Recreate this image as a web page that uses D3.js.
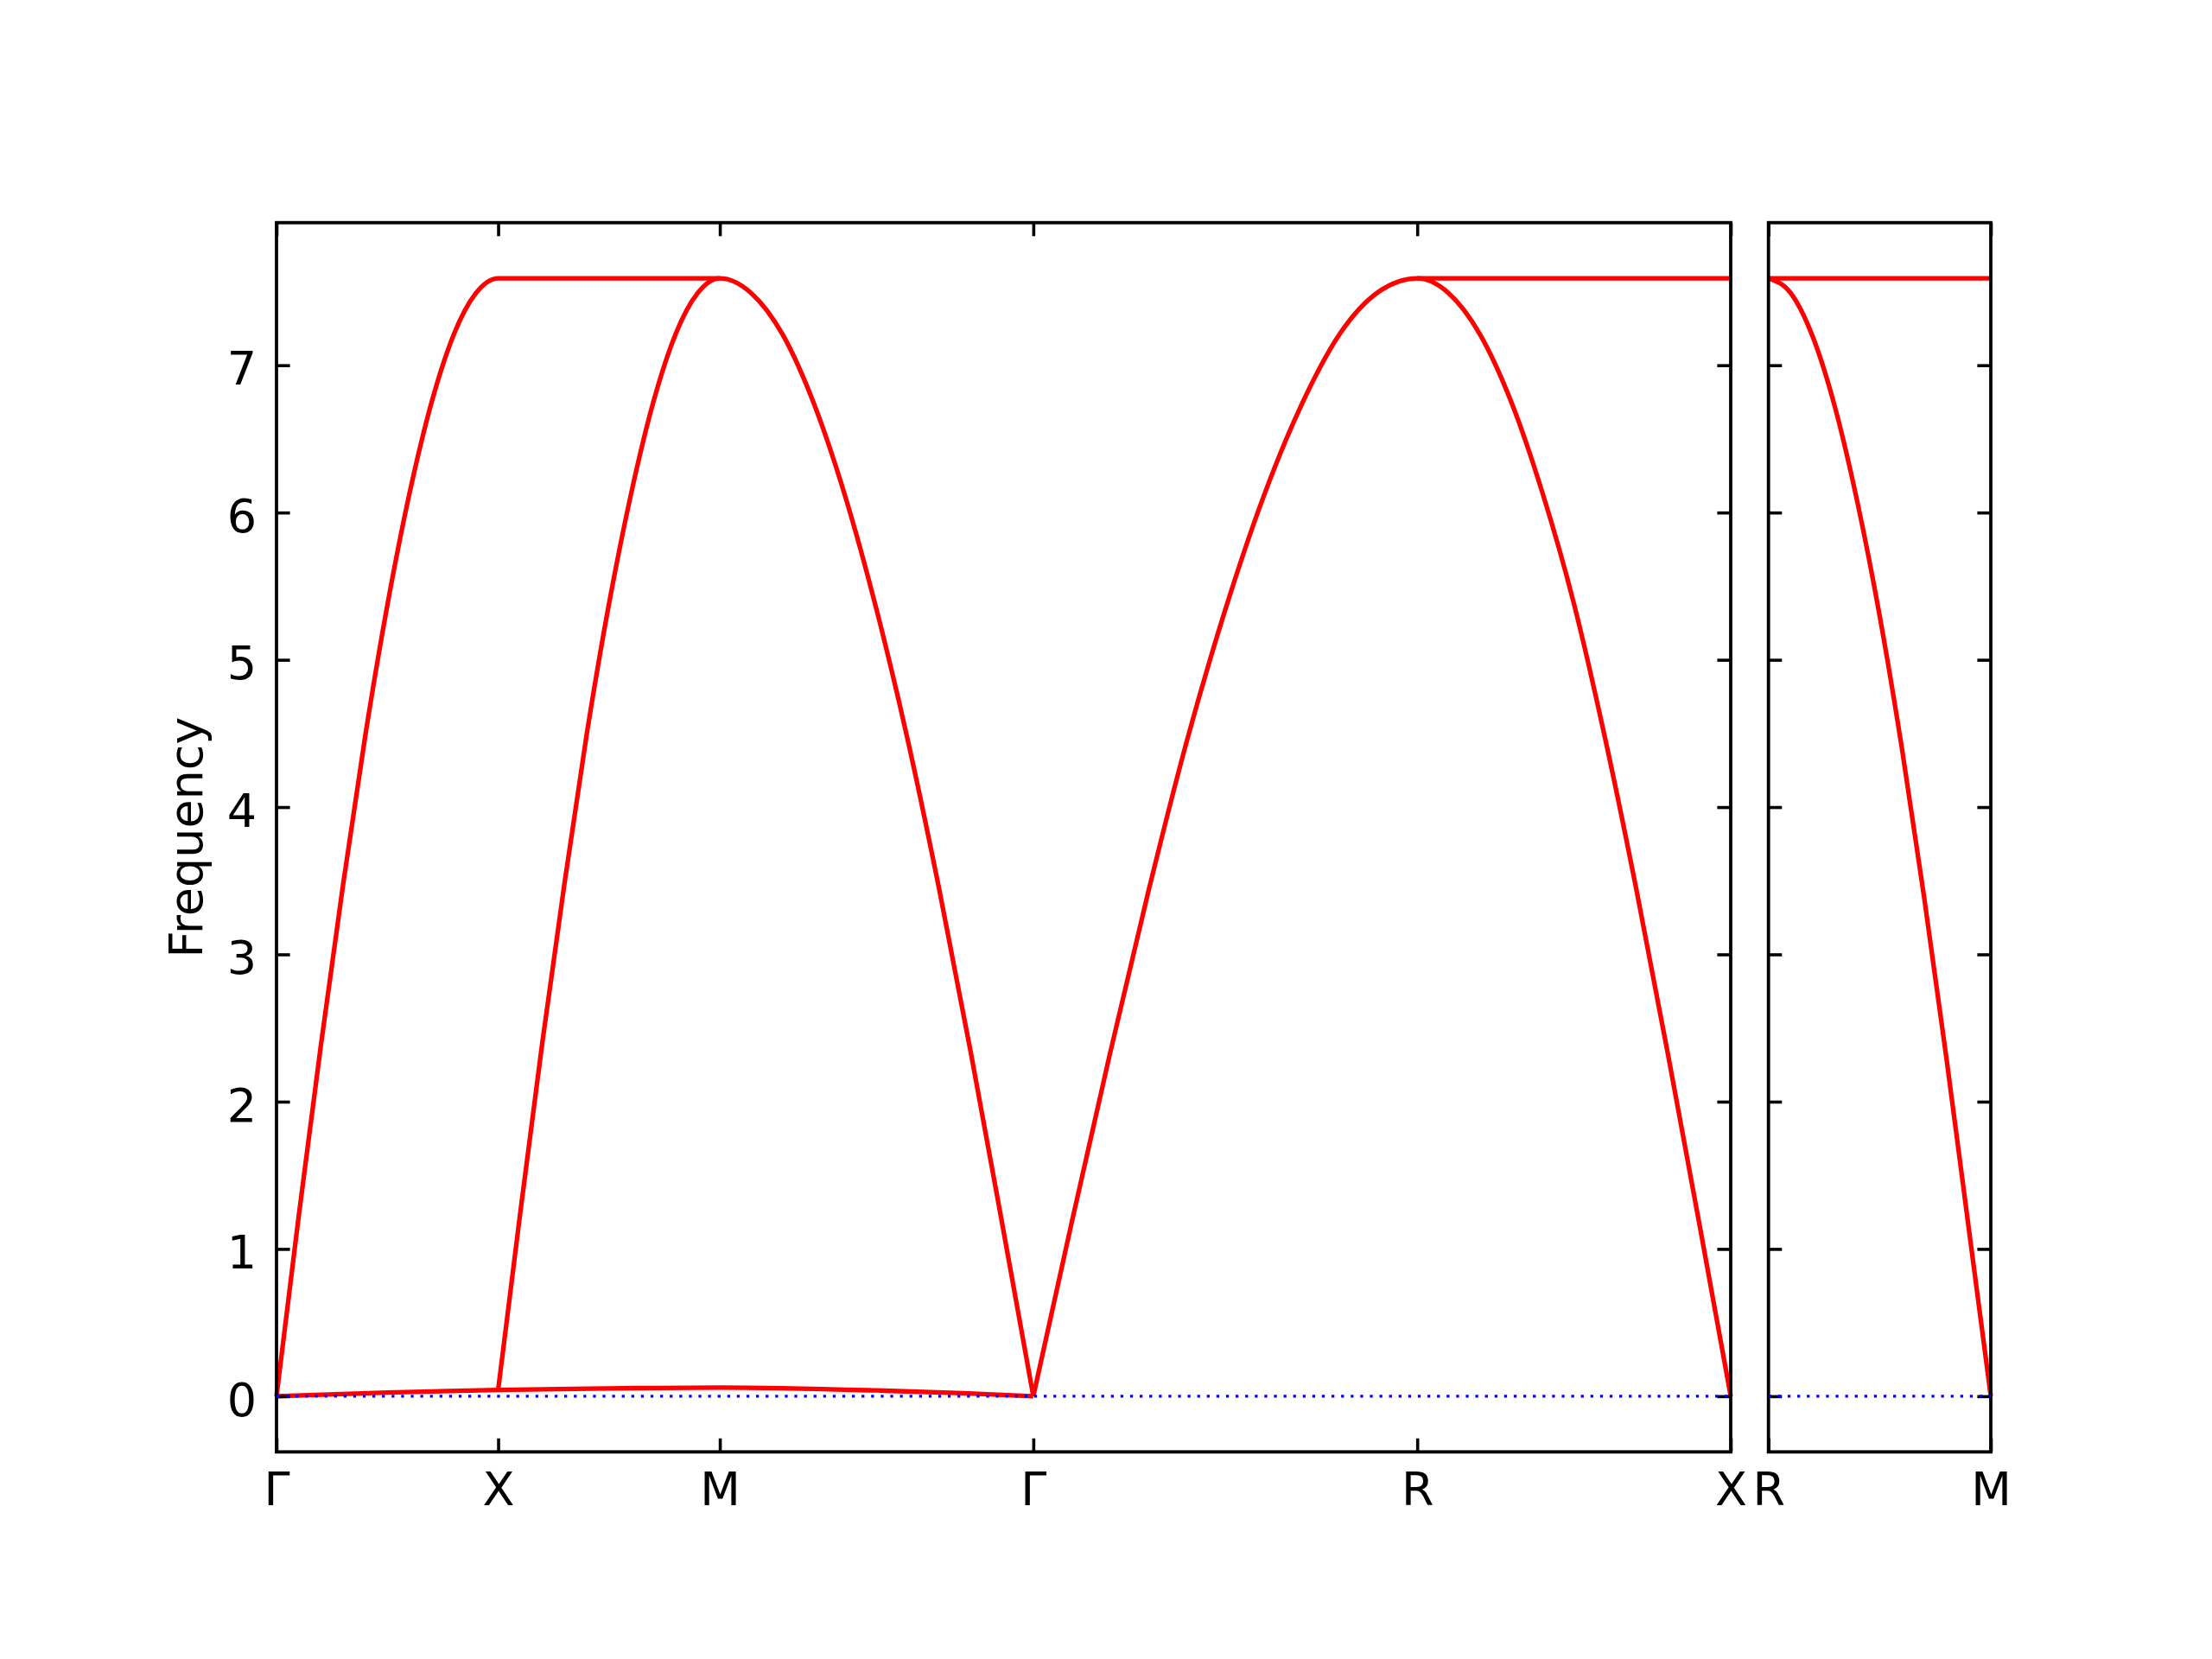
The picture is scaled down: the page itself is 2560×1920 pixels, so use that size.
<!DOCTYPE html>
<html>
<head>
<meta charset="utf-8">
<script src="https://cdn.jsdelivr.net/npm/d3@7"></script>
<style>
  body { margin: 0; background: #fff; }
</style>
</head>
<body>
<script>
// high symmetry points along the path
const leftTicks = [0, 0.5, 1.0, 1.7071, 2.5731, 3.2802];
const leftLabels = ['Γ', 'X', 'M', 'Γ', 'R', 'X'];
const rightTicks = [0, 0.5];
const rightLabels = ['R', 'M'];
const freqTicks = [0, 1, 2, 3, 4, 5, 6, 7];

// segments of the path (start, end)
const segGX = [0, 0.5];
const segXM = [0.5, 1.0];
const segMG = [1.0, 1.7071];
const segGR = [1.7071, 2.5731];
const segRX = [2.5731, 3.2802];
const segRM = [0, 0.5];

// fraction along each segment where the values were read
const steps = [0, 0.1, 0.2, 0.3, 0.4, 0.5, 0.6, 0.7, 0.8, 0.9, 1];

// frequencies
const gxUpper = [0, 1.22, 2.38, 3.47, 4.48, 5.37, 6.13, 6.75, 7.21, 7.49, 7.59];
const xmUpper = [0.043, 1.25, 2.41, 3.49, 4.5, 5.38, 6.13, 6.75, 7.21, 7.49, 7.59];
const mgUpper = [7.59, 7.49, 7.21, 6.74, 6.11, 5.34, 4.45, 3.44, 2.34, 1.18, 0];
const grUpper = [0, 1.18, 2.33, 3.43, 4.45, 5.34, 6.11, 6.74, 7.22, 7.5, 7.59];
const rxUpper = [7.59, 7.49, 7.21, 6.75, 6.13, 5.38, 4.46, 3.43, 2.32, 1.17, 0];
const rmUpper = [7.59, 7.49, 7.19, 6.71, 6.07, 5.3, 4.4, 3.39, 2.3, 1.15, 0];
const flatTop = 7.59;

// the near zero band from Γ to Γ
const lowK = [0, 0.25, 0.5, 0.75, 1.0, 1.354, 1.55, 1.7071];
const lowVals = [0, 0.025, 0.043, 0.053, 0.059, 0.039, 0.02, 0];

const yDomain = [-0.378, 7.968];

const svg = d3.select('body').append('svg')
  .attr('width', 2560)
  .attr('height', 1920);

const plotTop = 257.7;
const plotBottom = 1680.3;
const tickLen = 15.6;
const font = 'DejaVu Sans, sans-serif';

const y = d3.scaleLinear().domain(yDomain).range([plotBottom, plotTop]);
const xLeft = d3.scaleLinear().domain([0, 3.2802]).range([320, 2003]);
const xRight = d3.scaleLinear().domain([0, 0.5]).range([2046.7, 2304]);

function piece(seg, vals) {
  return steps.map((f, i) => [seg[0] + f * (seg[1] - seg[0]), vals[i]]);
}

// pieces that belong to one band are joined so the tops stay round
const leftBands = [
  piece(segGX, gxUpper).concat([[segXM[1], flatTop]]),
  lowK.map((k, i) => [k, lowVals[i]]),
  piece(segXM, xmUpper).concat(piece(segMG, mgUpper).slice(1)),
  piece(segGR, grUpper).concat(piece(segRX, rxUpper).slice(1)),
  [[segRX[0], flatTop], [segRX[1], flatTop]]
];
const rightBands = [
  [[segRM[0], flatTop], [segRM[1], flatTop]],
  piece(segRM, rmUpper)
];

function drawPanel(x, ticks, labels, bands, showY) {
  const g = svg.append('g');
  const x0 = x.range()[0];
  const x1 = x.range()[1];

  // red bands
  const line = d3.line()
    .x(d => x(d[0]))
    .y(d => y(d[1]))
    .curve(d3.curveMonotoneX);
  g.selectAll('path.band')
    .data(bands)
    .enter()
    .append('path')
    .attr('class', 'band')
    .attr('d', line)
    .attr('fill', 'none')
    .attr('stroke', '#ff0000')
    .attr('stroke-width', 5.3)
    .attr('stroke-linejoin', 'round');

  // axes, ticks pointing in
  const bottomAxis = g.append('g')
    .attr('transform', `translate(0,${plotBottom})`)
    .call(d3.axisBottom(x).tickValues(ticks).tickFormat((d, i) => labels[i])
      .tickSize(-tickLen).tickPadding(23));
  const topAxis = g.append('g')
    .attr('transform', `translate(0,${plotTop})`)
    .call(d3.axisTop(x).tickValues(ticks).tickFormat('').tickSize(-tickLen));
  const leftAxis = g.append('g')
    .attr('transform', `translate(${x0},0)`)
    .call(d3.axisLeft(y).tickValues(freqTicks).tickFormat(showY ? d3.format('d') : '')
      .tickSize(-tickLen).tickPadding(23));
  const rightAxis = g.append('g')
    .attr('transform', `translate(${x1},0)`)
    .call(d3.axisRight(y).tickValues(freqTicks).tickFormat('').tickSize(-tickLen));

  [bottomAxis, topAxis, leftAxis, rightAxis].forEach(a => {
    a.select('.domain').remove();
    a.attr('font-size', 54).attr('font-family', font);
    a.selectAll('.tick line').attr('stroke', '#000').attr('stroke-width', 3.6);
    a.selectAll('.tick text').attr('fill', '#000');
  });
  leftAxis.selectAll('.tick text').attr('dy', '0.41em');

  // frame
  g.append('rect')
    .attr('x', x0)
    .attr('y', plotTop)
    .attr('width', x1 - x0)
    .attr('height', plotBottom - plotTop)
    .attr('fill', 'none')
    .attr('stroke', '#000')
    .attr('stroke-width', 3.8);

  // dotted zero line
  g.append('line')
    .attr('x1', x0)
    .attr('x2', x1)
    .attr('y1', y(0))
    .attr('y2', y(0))
    .attr('stroke', '#0000ff')
    .attr('stroke-width', 3.3)
    .attr('stroke-dasharray', '3.3,7.8');
}

drawPanel(xLeft, leftTicks, leftLabels, leftBands, true);
drawPanel(xRight, rightTicks, rightLabels, rightBands, false);

svg.append('text')
  .text('Frequency')
  .attr('transform', `translate(234,${(plotTop + plotBottom) / 2}) rotate(-90)`)
  .attr('text-anchor', 'middle')
  .attr('font-family', font)
  .attr('font-size', 54)
  .attr('fill', '#000');
</script>
</body>
</html>
